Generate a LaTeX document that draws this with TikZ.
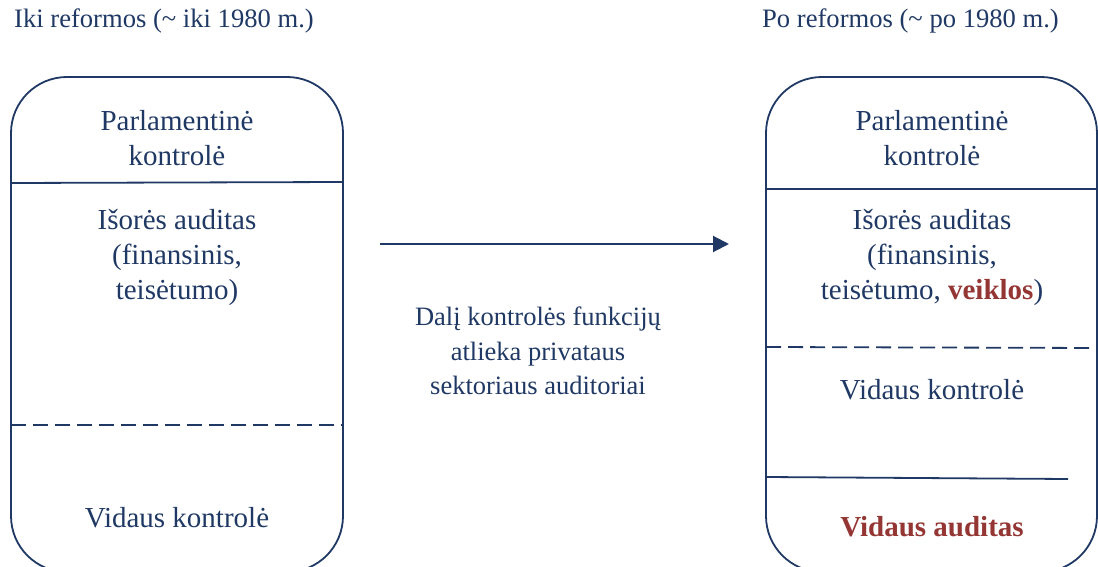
\documentclass[tikz,border=0pt]{standalone}
\usepackage{fontspec}
\setmainfont{Liberation Serif}
\usetikzlibrary{arrows.meta}
\definecolor{navy}{HTML}{1F3864}
\definecolor{accent}{HTML}{943634}
\tikzset{
  boxline/.style={draw=navy, line width=1.8pt},
  sepline/.style={draw=navy, line width=1.8pt},
  dashline/.style={draw=navy, line width=1.8pt, dash pattern=on 15pt off 7pt},
  boxtext/.style={text=navy, align=center, inner sep=0pt, font=\fontsize{29}{35}\selectfont},
  midtext/.style={text=navy, align=center, inner sep=0pt, font=\fontsize{26.5}{34.5}\selectfont},
  headtext/.style={text=navy, anchor=west, inner sep=0pt, font=\fontsize{26.6}{30}\selectfont},
  flowarrow/.style={draw=navy, line width=2pt, -{Triangle[length=16pt,width=16pt]}},
}
\begin{document}
\begin{tikzpicture}[x=1pt,y=-1pt]
\useasboundingbox (0,0) rectangle (1098,567);
\clip (0,0) rectangle (1098,567);

% headings
\node[headtext] (hleft) at (14,21) {Iki reformos (\char"007E{} iki 1980 m.)};
\node[headtext] (hright) at (762,21) {Po reformos (\char"007E{} po 1980 m.)};

% left column: before the reforms
\draw[boxline, rounded corners=56pt] (11,77) rectangle (343,572);
\draw[sepline] (11,183) -- (343,182);
\draw[dashline] (11,425) -- (343,425);
\node[boxtext] (lparl) at (177,138) {Parlamentinė\\kontrolė};
\node[boxtext] (lext) at (177,257) {Išorės auditas\\(finansinis,\\teisėtumo)};
\node[boxtext] (lint) at (177,518) {Vidaus kontrolė};

% right column: after the reforms
\draw[boxline, rounded corners=56pt] (766,77) rectangle (1097,572);
\draw[sepline] (766,189) -- (1097,189);
\draw[dashline] (766,347) -- (1097,348);
\draw[sepline] (766,477) -- (1068,479);
\node[boxtext] (rparl) at (932,138) {Parlamentinė\\kontrolė};
\node[boxtext] (rext) at (932,257) {Išorės auditas\\(finansinis,\\teisėtumo, \textcolor{accent}{\textbf{veiklos}})};
\node[boxtext] (rint) at (932,390) {Vidaus kontrolė};
\node[boxtext, text=accent, font=\fontsize{29}{35}\selectfont\bfseries] (raud) at (932,527) {Vidaus auditas};

% transition arrow and its note
\coordinate (astart) at (380,244);
\coordinate (aend) at (729,244);
\draw[flowarrow] (astart) -- (aend);
\node[midtext] (note) at (538,351) {Dalį kontrolės funkcijų\\atlieka privataus\\sektoriaus auditoriai};
\end{tikzpicture}
\end{document}
